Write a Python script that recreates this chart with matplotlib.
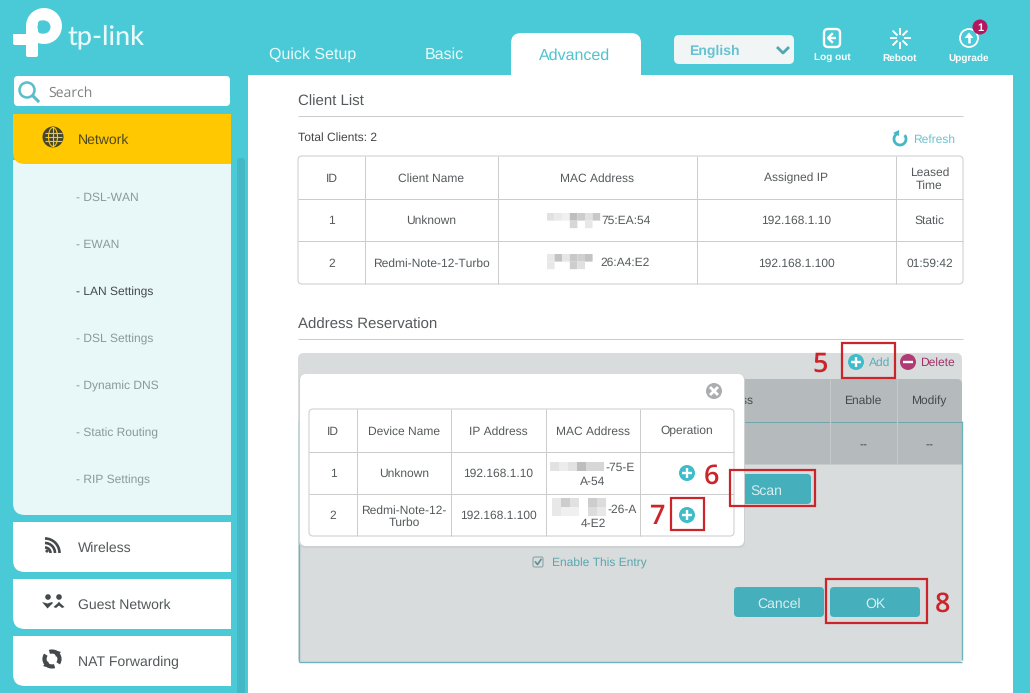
import itertools
import numpy as np
import matplotlib
matplotlib.use('Agg')
import matplotlib.pyplot as plt
from matplotlib.patches import Circle, Ellipse, PathPatch, Polygon, Arc
from matplotlib.path import Path

plt.rcParams['font.family'] = ['Liberation Sans', 'DejaVu Sans']
plt.rcParams['text.hinting'] = 'no_hinting'
plt.rcParams['text.hinting_factor'] = 1

# 1. Page text
tabs = ['Quick Setup', 'Basic', 'Advanced']
top_buttons = ['Log out', 'Reboot', 'Upgrade']
submenu = ['- DSL-WAN', '- EWAN', '- LAN Settings', '- DSL Settings',
           '- Dynamic DNS', '- Static Routing', '- RIP Settings']
side_items = ['Wireless', 'Guest Network', 'NAT Forwarding']

# 2. Table contents
client_header = ['ID', 'Client Name', 'MAC Address', 'Assigned IP', 'Leased\nTime']
client_rows = [['1', 'Unknown', '75:EA:54', '192.168.1.10', 'Static'],
               ['2', 'Redmi-Note-12-Turbo', '26:A4:E2', '192.168.1.100', '01:59:42']]
popup_header = ['ID', 'Device Name', 'IP Address', 'MAC Address', 'Operation']
popup_rows = [['1', 'Unknown', '192.168.1.10', '', ''],
              ['2', 'Redmi-Note-12-\nTurbo', '192.168.1.100', '', '']]

# blurred part of the MAC addresses, grey levels
blur_client_1 = [[225, 234, 240, 190, 205, 225, 200], [255, 255, 255, 215, 255, 232, 255]]
blur_client_2 = [[232, 195, 230, 200, 208, 195, 255], [232, 255, 255, 205, 225, 255, 255]]
blur_popup_1 = [[226, 236, 226, 190, 215, 215]]
blur_popup_2 = [[232, 205, 225, 255, 205, 220], [232, 240, 240, 255, 220, 232]]

TEAL = '#4ACAD6'
BTN = '#45AFBC'
RED = '#CB252B'
TXT = '#555a5c'
ONE_PX = 0.72

fig = plt.figure(figsize=(10.30, 6.93), dpi=100, facecolor=TEAL)
ax = fig.add_axes([0, 0, 1, 1])
ax.set_xlim(0, 1030)
ax.set_ylim(693, 0)
ax.axis('off')

z = itertools.count(1)


def box(x0, y0, x1, y1, fc='none', ec='none', lw=ONE_PX, r=(0, 0, 0, 0)):
    # r = top-left, top-right, bottom-right, bottom-left radius
    if np.isscalar(r):
        r = (r, r, r, r)
    tl, tr, br, bl = r
    verts = [(x0 + tl, y0), (x1 - tr, y0), (x1, y0), (x1, y0 + tr),
             (x1, y1 - br), (x1, y1), (x1 - br, y1),
             (x0 + bl, y1), (x0, y1), (x0, y1 - bl),
             (x0, y0 + tl), (x0, y0), (x0 + tl, y0), (x0 + tl, y0)]
    codes = [Path.MOVETO, Path.LINETO, Path.CURVE3, Path.CURVE3,
             Path.LINETO, Path.CURVE3, Path.CURVE3,
             Path.LINETO, Path.CURVE3, Path.CURVE3,
             Path.LINETO, Path.CURVE3, Path.CURVE3, Path.CLOSEPOLY]
    ax.add_patch(PathPatch(Path(verts, codes), fc=fc, ec=ec, lw=lw, zorder=next(z)))


def txt(x, y, s, px=12, color=TXT, ha='center', **kw):
    ax.text(x, y, s, fontsize=px * 0.72, color=color, ha=ha, va='center_baseline',
            zorder=next(z), **kw)


def hline(x0, x1, y, color='#cccccc', lw=ONE_PX):
    ax.plot([x0, x1], [y, y], color=color, lw=lw, zorder=next(z), solid_capstyle='butt')


def vline(x, y0, y1, color='#cccccc', lw=ONE_PX):
    ax.plot([x, x], [y0, y1], color=color, lw=lw, zorder=next(z), solid_capstyle='butt')


def circle(x, y, r, fc='none', ec='none', lw=ONE_PX):
    ax.add_patch(Circle((x, y), r, fc=fc, ec=ec, lw=lw, zorder=next(z)))


def arc(x, y, r, a0, a1, color, lw):
    ax.add_patch(Arc((x, y), 2 * r, 2 * r, theta1=a0, theta2=a1, color=color, lw=lw, zorder=next(z)))


def poly(pts, fc):
    ax.add_patch(Polygon(pts, closed=True, fc=fc, ec='none', zorder=next(z)))


def plus_icon(x, y, r=8, fc='#3FBCCB', sign=True):
    circle(x, y, r, fc=fc)
    hline(x - r * 0.62, x + r * 0.62, y, color='white', lw=1.7)
    if sign:
        vline(x, y - r * 0.62, y + r * 0.62, color='white', lw=1.7)


def blur(x0, y0, cell, levels):
    for j, row in enumerate(levels):
        for i, v in enumerate(row):
            if v < 255:
                c = '#%02x%02x%02x' % (v, v, v)
                box(x0 + i * cell, y0 + j * cell, x0 + (i + 1) * cell, y0 + (j + 1) * cell, fc=c)


def table(xs, ys, header, rows, px=12):
    box(xs[0], ys[0], xs[-1], ys[-1], fc='white', ec='#cccccc', r=4)
    for x in xs[1:-1]:
        vline(x, ys[0], ys[-1])
    for y in ys[1:-1]:
        hline(xs[0], xs[-1], y)
    for i, s in enumerate(header):
        txt((xs[i] + xs[i + 1]) / 2, (ys[0] + ys[1]) / 2, s, px=px, linespacing=1.15)
    for j, row in enumerate(rows):
        for i, s in enumerate(row):
            if s:
                txt((xs[i] + xs[i + 1]) / 2, (ys[j + 1] + ys[j + 2]) / 2, s, px=px, linespacing=1.15)


# 3. Logo
circle(44, 26, 18, fc='white')
box(26, 26, 38, 57, fc='white', r=(0, 0, 2, 2))
box(13, 34, 38, 45, fc='white', r=(0, 0, 0, 2))
circle(44, 27, 6.5, fc=TEAL)
box(38, 20.5, 44, 33.5, fc=TEAL, r=(3, 0, 0, 3))
txt(67, 35, 'tp-link', px=26.5, color='#E8FAFB', ha='left', family='Lato', fontweight='medium')

# 4. Top tabs and buttons
txt(313, 53, tabs[0], px=16, color='#E9FAFB')
txt(444, 53, tabs[1], px=16, color='#E9FAFB')
box(248, 75, 1013, 693, fc='white')
box(511, 33, 641, 76, fc='white', r=(10, 10, 0, 0))
txt(575, 54, tabs[2], px=16, color='#4FC3CF')

box(674, 35, 794, 64, fc='#F2F5F6', r=5)
txt(689, 50, 'English', px=14, color='#66C2D2', ha='left', fontweight='bold')
ax.plot([778, 783, 788], [48, 53, 48], color='#4FA7B4', lw=2.0, zorder=next(z))

# log out
box(824, 29, 840, 47, ec='white', lw=1.7, r=4)
hline(829, 836, 38, color='white', lw=1.7)
ax.plot([832, 828, 832], [34, 38, 42], color='white', lw=1.7, zorder=next(z))
txt(832, 57, top_buttons[0], px=10.5, color='white', fontweight='bold')
# reboot
for a in np.radians(np.arange(0, 360, 45)):
    ax.plot([900 + 4.5 * np.cos(a), 900 + 9.5 * np.cos(a)],
            [38 + 4.5 * np.sin(a), 38 + 9.5 * np.sin(a)], color='white', lw=1.4, zorder=next(z))
txt(900, 57, top_buttons[1], px=10.5, color='white', fontweight='bold')
# upgrade
circle(969, 38, 9, ec='white', lw=1.3)
poly([(969, 32.5), (964.5, 38), (973.5, 38)], 'white')
vline(969, 37, 43, color='white', lw=1.8)
circle(980, 27, 7.5, fc='#B5145F')
txt(980, 27.5, '1', px=11, color='white', fontweight='bold')
txt(969, 57, top_buttons[2], px=10.5, color='white', fontweight='bold')

# 5. Sidebar
box(14, 76, 230, 106, fc='white', r=4)
circle(27, 90, 7.5, ec='#58BECC', lw=1.8)
ax.plot([33, 38], [96, 101], color='#58BECC', lw=2.2, zorder=next(z))
txt(48, 91.5, 'Search', px=13.5, color='#7d8182', ha='left', family='Open Sans')

box(237, 158, 245, 693, fc='#44B8C5', r=(3, 3, 0, 0))
box(13, 160, 231, 515, fc='#E8F7F8', r=(0, 0, 0, 12))
box(13, 114, 231, 164, fc='#FFC800', r=(0, 0, 0, 12))
circle(53, 137, 10.5, fc='#45452f')
for dy in (-4, 0, 4):
    hline(44.5, 61.5, 137 + dy, color='#FFC800', lw=0.8)
vline(53, 127, 147, color='#FFC800', lw=0.8)
ax.add_patch(Ellipse((53, 137), 9, 19, fc='none', ec='#FFC800', lw=0.8, zorder=next(z)))
txt(78, 139, 'Network', px=14, color='#4f4a22', ha='left')

for i, s in enumerate(submenu):
    c = '#45494b' if i == 2 else '#8a9a9c'
    txt(76, 197 + i * 47, s, px=12, color=c, ha='left')

for i, s in enumerate(side_items):
    y0 = 522 + i * 57
    box(13, y0, 231, y0 + 50, fc='white', r=(0, 0, 0, 12))
    txt(78, y0 + 25, s, px=14, color='#53585a', ha='left')

# wireless icon
for r in (5.5, 10, 14.5):
    arc(45, 553, r, 270, 360, '#44494b', 1.9)
circle(47, 551, 1.6, fc='#44494b')
# guest network icon
for x in (48, 59):
    circle(x, 597, 2.8, fc='#44494b')
poly([(42, 602), (47.5, 603.5), (52, 602), (53, 603), (47.5, 608.5)], '#44494b')
poly([(64.5, 607), (60, 603), (59, 601.5), (58, 603), (53.5, 607), (56, 608), (59, 605.5), (62, 608)], '#44494b')
# nat forwarding icon
arc(52, 659, 7.5, 70, 215, '#44494b', 3.0)
arc(52, 659, 7.5, 250, 35, '#44494b', 3.0)
poly([(54, 650), (61, 652), (56, 657)], '#44494b')
poly([(50, 668), (43, 666), (48, 661)], '#44494b')

# 6. Client list
txt(298, 100, 'Client List', px=15, ha='left')
hline(298, 963, 115.5)
txt(298, 136.5, 'Total Clients: 2', px=12, color='#444', ha='left')
arc(900, 139, 6, 320, 250, '#45B7C5', 2.0)
poly([(899, 130), (899, 136), (893, 133)], '#45B7C5')
txt(913, 139, 'Refresh', px=12, color='#6DC2CE', ha='left')

client_x = [298, 365, 498, 697, 896, 963]
client_y = [156, 199, 241, 284]
table(client_x, client_y, client_header, [[r[0], r[1], '', r[3], r[4]] for r in client_rows])
blur(547, 213, 7.6, blur_client_1)
txt(601, 220, client_rows[0][2], ha='left')
blur(547, 254, 7.6, blur_client_2)
txt(600, 262, client_rows[1][2], ha='left')

# 7. Address reservation, dimmed behind the popup
txt(298, 323, 'Address Reservation', px=15, ha='left')
hline(298, 963, 338.5)
box(298, 353, 962, 662, fc='#D8DCDD', r=(6, 6, 3, 3))
box(299, 379, 962, 464, fc='#B5BBBD', r=(0, 5, 0, 0))
hline(299, 962, 421.5, color='#6FA6AB')
hline(299, 962, 464, color='#C5CACB')
vline(829.5, 379, 464, color='#C5CACB')
vline(896.5, 379, 464, color='#C5CACB')
txt(753, 400, 'MAC Address', color='#45494b', ha='right')
txt(863, 400, 'Enable', color='#45494b')
txt(929, 400, 'Modify', color='#45494b')
txt(863, 443, '--', color='#45494b')
txt(929, 443, '--', color='#45494b')
vline(298.5, 421, 662, color='#6FB4BC', lw=1.0)
vline(962, 421, 660, color='#6FB4BC', lw=1.0)
hline(299, 962, 662, color='#6FB4BC', lw=1.0)

plus_icon(856, 362)
txt(869, 362, 'Add', color='#55AEBA', ha='left')
plus_icon(908, 362, fc='#B13A72', sign=False)
txt(920, 362, 'Delete', color='#A33268', ha='left')

box(720, 474, 811, 504, fc=BTN, r=4)
txt(766, 490, 'Scan', px=14, color='#D8EEF0')
box(734, 587, 824, 617, fc=BTN, r=4)
txt(779, 603, 'Cancel', px=14, color='#D8EEF0')
box(830, 587, 920, 617, fc=BTN, r=4)
txt(875, 603, 'OK', px=14, color='#D8EEF0')

box(533, 557, 543, 567, ec='#8aa0a2', r=1.5)
ax.plot([535.5, 537.5, 541], [562, 564.5, 559.5], color='#5f8f95', lw=1.2, zorder=next(z))
txt(552, 562, 'Enable This Entry', color='#5BA6AF', ha='left')

# 8. Popup
box(299, 374, 745, 548, fc='#cdd1d2', r=6)
box(300, 374, 744, 546, fc='white', r=6)
popup_x = [309, 357, 451, 546, 640, 734]
popup_y = [409, 452, 494, 536]
table(popup_x, popup_y, popup_header, popup_rows)
circle(714, 391, 8, fc='#ABADAF')
ax.plot([711, 717], [388, 394], color='white', lw=2, zorder=next(z))
ax.plot([711, 717], [394, 388], color='white', lw=2, zorder=next(z))
blur(550, 462, 9, blur_popup_1)
txt(605, 466.5, '-75-E', ha='left')
txt(593, 481, 'A-54')
blur(552, 498, 9, blur_popup_2)
txt(607, 509, '-26-A', ha='left')
txt(593, 523, '4-E2')
plus_icon(687, 473)
plus_icon(687, 515)

# 9. Red annotations
for x0, y0, x1, y1 in [(842, 343, 895, 378), (730, 470, 815, 506),
                       (671, 498, 704, 530), (826, 579, 927, 623)]:
    box(x0, y0, x1, y1, ec=RED, lw=1.6)
for x, y, s in [(820, 361, '5'), (711, 473, '6'), (657, 514, '7'), (943, 601, '8')]:
    txt(x, y, s, px=27, color=RED, family='Open Sans', fontweight='semibold')

fig.savefig('out.png', dpi=100, facecolor=fig.get_facecolor())
